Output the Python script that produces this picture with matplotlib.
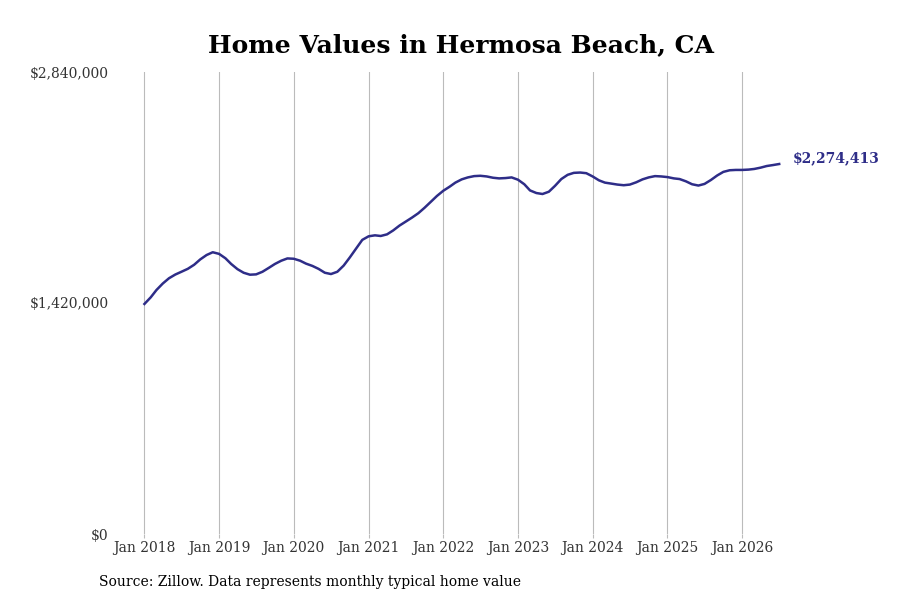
import matplotlib
matplotlib.use("Agg")
import matplotlib.pyplot as plt
import matplotlib.dates as mdates
import matplotlib.ticker as mticker
import pandas as pd

# monthly typical home value, Jan 2018 - Jul 2026
start_month = "2018-01-01"
values = [
    1414000, 1455000, 1500000, 1540000, 1572000, 1595000, 1612000, 1630000,
    1655000, 1688000, 1715000, 1732000,
    1722000, 1695000, 1660000, 1628000, 1606000, 1594000, 1596000, 1612000,
    1636000, 1660000, 1680000, 1694000,
    1692000, 1680000, 1662000, 1648000, 1630000, 1606000, 1598000, 1612000,
    1650000, 1700000, 1755000, 1808000,
    1830000, 1836000, 1832000, 1842000, 1866000, 1896000, 1920000, 1945000,
    1972000, 2005000, 2042000, 2078000,
    2110000, 2135000, 2160000, 2180000, 2192000, 2200000, 2202000, 2198000,
    2190000, 2186000, 2188000, 2192000,
    2178000, 2150000, 2112000, 2096000, 2090000, 2104000, 2140000, 2182000,
    2208000, 2220000, 2222000, 2218000,
    2198000, 2174000, 2160000, 2154000, 2148000, 2144000, 2148000, 2162000,
    2180000, 2192000, 2200000, 2198000,
    2194000, 2186000, 2182000, 2168000, 2150000, 2142000, 2152000, 2176000,
    2204000, 2226000, 2236000, 2238000,
    2238000, 2240000, 2244000, 2252000, 2262000, 2268000, 2274413,
]
y_ticks = [0, 1420000, 2840000]
title = "Home Values in Hermosa Beach, CA"
source = "Source: Zillow. Data represents monthly typical home value"

line_color = "#2e2d88"

plt.rcParams["font.family"] = "DejaVu Serif"

dates = pd.date_range(start_month, periods=len(values), freq="MS")

fig = plt.figure(figsize=(9, 6), dpi=100)
ax = fig.add_axes([0.13, 0.11, 0.746, 0.77])

ax.plot(dates, values, color=line_color, linewidth=1.8)

ax.set_ylim(0, 2840000)
ax.set_xlim(pd.Timestamp("2017-08-20"), pd.Timestamp("2026-08-15"))

ax.set_yticks(y_ticks)
ax.yaxis.set_major_formatter(mticker.FuncFormatter(lambda v, p: "${:,.0f}".format(v)))

ax.xaxis.set_major_locator(mdates.YearLocator())
ax.xaxis.set_major_formatter(mdates.DateFormatter("Jan %Y"))

ax.grid(axis="x", color="#bbbbbb", linewidth=0.8)
ax.tick_params(axis="x", length=3, color="#bbbbbb", labelsize=10, labelcolor="#333333", pad=2)
ax.tick_params(axis="y", length=0, labelsize=10, labelcolor="#333333", pad=6)
for s in ax.spines.values():
    s.set_visible(False)

ax.annotate("${:,.0f}".format(values[-1]), xy=(dates[-1], values[-1]),
            xytext=(10, 4), textcoords="offset points", va="center", ha="left",
            color=line_color, fontsize=10, fontweight="bold", annotation_clip=False)

fig.suptitle(title, fontsize=18, fontweight="bold", x=0.512, y=0.945)
fig.text(0.11, 0.03, source, fontsize=10, va="center")

fig.savefig("out.png", dpi=100)
